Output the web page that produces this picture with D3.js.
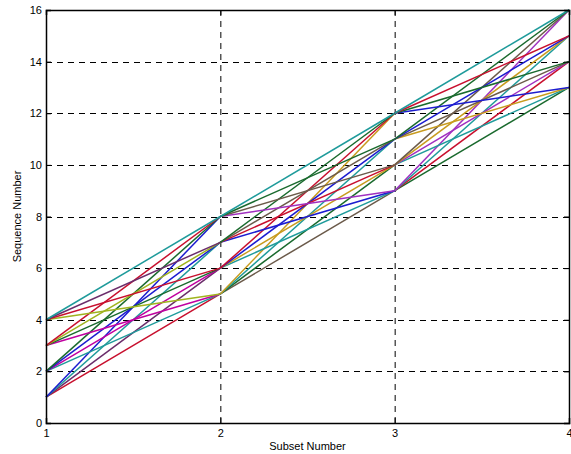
<!DOCTYPE html>
<html>
<head>
<meta charset="utf-8">
<script src="https://cdn.jsdelivr.net/npm/d3@7"></script>
<style>
body { margin: 0; background: #fff; }
text { font-family: "Liberation Sans", Arial, sans-serif; }
</style>
</head>
<body>
<div class="canvas"></div>
<script>
// subsets: sequence numbers belonging to each subset
const subsets = [1, 2, 3, 4]
const subsetMembers = [[1, 2, 3, 4], [5, 6, 7, 8], [9, 10, 11, 12], [13, 14, 15, 16]]
const xTicks = [1, 2, 3, 4]
const yTicks = [0, 2, 4, 6, 8, 10, 12, 14, 16]

// segment colours, gap k: row = from-node, column = to-node
const gap1Colors = [
    ["#c8102e", "#6b2d6b", "#1f9b9b", "#1c1cd0"],
    ["#1f9b9b", "#c000a0", "#1c1cd0", "#1a6a2e"],
    ["#c000a0", "#1a6a2e", "#a0b41e", "#c8102e"],
    ["#a0b41e", "#c8102e", "#6b2d6b", "#1f9b9b"]
]
const gap2Colors = [
    ["#6b5a4a", "#1a6a2e", "#1f9b9b", "#c89b1e"],
    ["#1f9b9b", "#c89b1e", "#1c1cd0", "#c8102e"],
    ["#1c1cd0", "#c8102e", "#6b5a4a", "#1a6a2e"],
    ["#a030c0", "#6b5a4a", "#1a6a2e", "#1f9b9b"]
]
const gap3Colors = [
    ["#1a6a2e", "#c8102e", "#1f9b9b", "#a030c0"],
    ["#1f9b9b", "#a030c0", "#c89b1e", "#6b5a4a"],
    ["#c89b1e", "#6b5a4a", "#1c1cd0", "#1a6a2e"],
    ["#1c1cd0", "#1a6a2e", "#c8102e", "#1f9b9b"]
]
const gapColors = [gap1Colors, gap2Colors, gap3Colors]

const width = 571, height = 454
const margin = { top: 10, right: 2, bottom: 31, left: 46 }
const graphWidth = width - margin.left - margin.right
const graphHeight = height - margin.top - margin.bottom

const svg = d3.select(".canvas")
    .append("svg")
    .attr("width", width)
    .attr("height", height)

const graph = svg.append("g")
    .attr("transform", `translate(${margin.left}, ${margin.top})`)

const scaleX = d3.scaleLinear()
    .domain([1, 4])
    .range([0, graphWidth])

const scaleY = d3.scaleLinear()
    .domain([0, 16])
    .range([graphHeight, 0])

// grid
graph.append("g")
    .selectAll("line")
    .data(xTicks.slice(1, -1))
    .enter()
    .append("line")
    .attr("x1", d => scaleX(d) + 0.5)
    .attr("x2", d => scaleX(d) + 0.5)
    .attr("y1", 0)
    .attr("y2", graphHeight)
    .attr("stroke", "#000")
    .attr("stroke-dasharray", "6,5")

graph.append("g")
    .selectAll("line")
    .data(yTicks.slice(1, -1))
    .enter()
    .append("line")
    .attr("x1", 0)
    .attr("x2", graphWidth)
    .attr("y1", d => Math.round(scaleY(d)) + 0.5)
    .attr("y2", d => Math.round(scaleY(d)) + 0.5)
    .attr("stroke", "#000")
    .attr("stroke-dasharray", "6,5")

// segments between consecutive subsets
const segments = []
gapColors.forEach((gap, k) => {
    subsetMembers[k].forEach((from, i) => {
        subsetMembers[k + 1].forEach((to, j) => {
            segments.push({ x1: subsets[k], y1: from, x2: subsets[k + 1], y2: to, color: gap[i][j] })
        })
    })
})

graph.append("g")
    .selectAll("line")
    .data(segments)
    .enter()
    .append("line")
    .attr("x1", d => scaleX(d.x1))
    .attr("y1", d => scaleY(d.y1))
    .attr("x2", d => scaleX(d.x2))
    .attr("y2", d => scaleY(d.y2))
    .attr("stroke", d => d.color)
    .attr("stroke-width", 1.5)

// axes (ticks inside, matlab style)
const xAxis = d3.axisBottom(scaleX).tickValues(xTicks).tickSize(-5).tickPadding(6).tickFormat(d3.format("d"))
const yAxis = d3.axisLeft(scaleY).tickValues(yTicks).tickSize(-5).tickPadding(4)
const xAxisTop = d3.axisTop(scaleX).tickValues(xTicks).tickSize(-5).tickFormat("")
const yAxisRight = d3.axisRight(scaleY).tickValues(yTicks).tickSize(-5).tickFormat("")

const styleAxis = g => {
    g.select(".domain").attr("stroke", "#000").attr("stroke-width", 1.5)
    g.selectAll(".tick line").attr("stroke", "#000")
    g.selectAll("text").attr("fill", "#000").style("font-size", "11px")
}

graph.append("g").attr("transform", `translate(0, ${graphHeight})`).call(xAxis).call(styleAxis)
graph.append("g").call(yAxis).call(styleAxis)
graph.append("g").call(xAxisTop).call(styleAxis)
graph.append("g").attr("transform", `translate(${graphWidth}, 0)`).call(yAxisRight).call(styleAxis)

// labels
svg.append("text")
    .attr("x", margin.left + graphWidth / 2)
    .attr("y", 450)
    .attr("text-anchor", "middle")
    .style("font-size", "11px")
    .text("Subset Number")

svg.append("text")
    .attr("transform", `translate(21, ${margin.top + graphHeight / 2}) rotate(-90)`)
    .attr("text-anchor", "middle")
    .style("font-size", "11px")
    .text("Sequence Number")
</script>
</body>
</html>
